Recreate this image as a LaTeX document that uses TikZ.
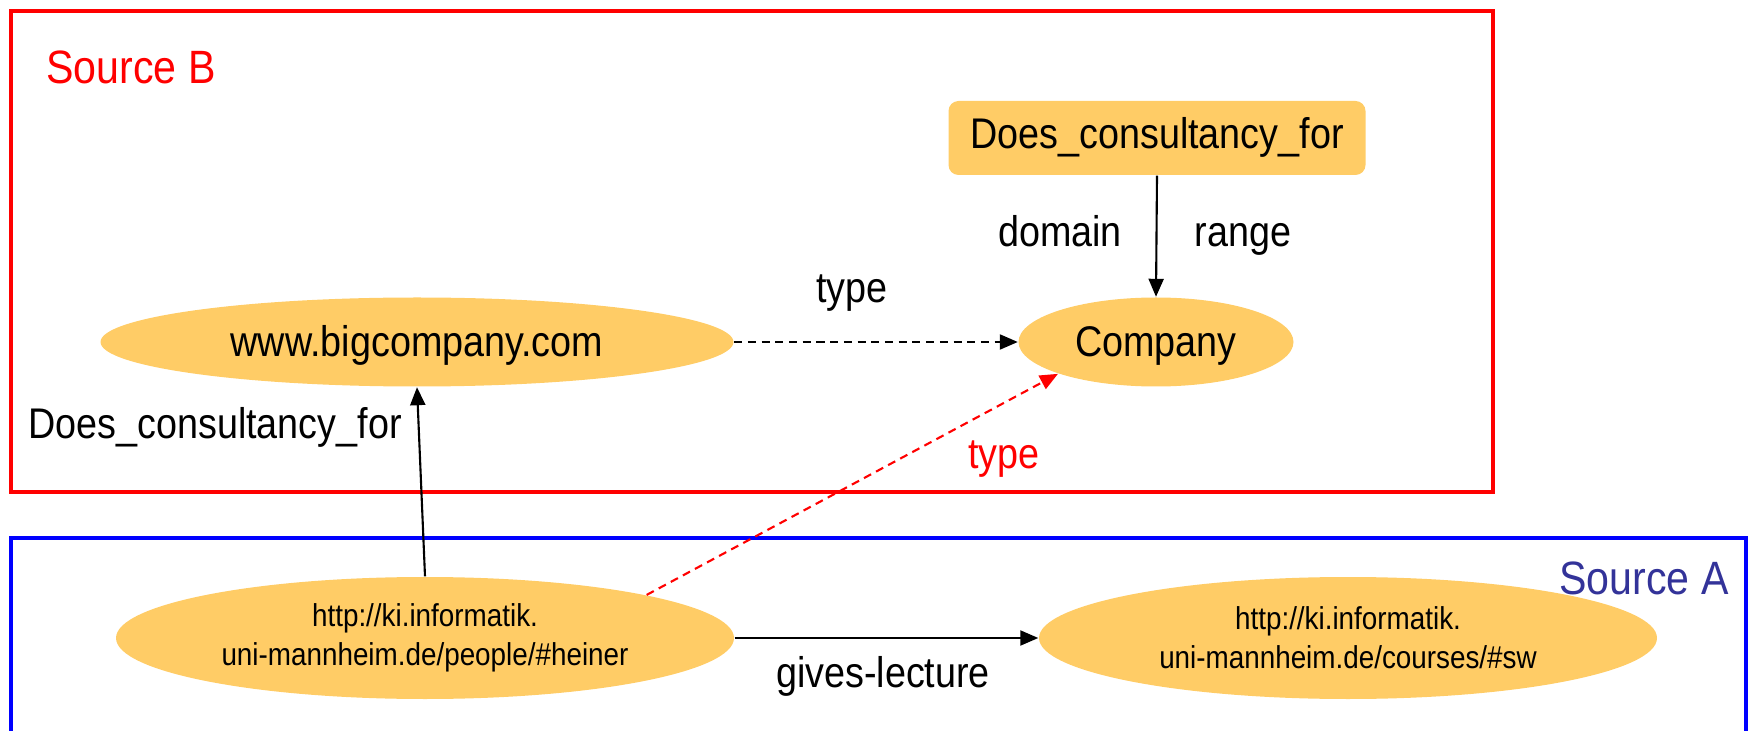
\documentclass[tikz,border=0pt]{standalone}
\usepackage{fontspec}
\setmainfont{Liberation Sans}[FakeStretch=0.88]
\usetikzlibrary{shapes.geometric,arrows.meta}
\definecolor{resOrange}{RGB}{255,204,102}
\definecolor{srcBlue}{RGB}{51,51,153}

\begin{document}
\begin{tikzpicture}[
    res/.style={ellipse, fill=resOrange, inner sep=0pt, align=center},
    prop/.style={rectangle, rounded corners=0.1cm, fill=resOrange, minimum width=4.17cm, minimum height=0.74cm},
    big/.style={font=\fontsize{12.2}{14}\selectfont, text height=1.6ex, text depth=0.45ex},
    bigres/.style={font=\fontsize{12.2}{14}\selectfont, text height=1.76ex, text depth=0.2ex},
    small/.style={font=\fontsize{9}{11.1}\selectfont},
    edge/.style={line width=0.6pt, -{Triangle[length=1.8mm,width=1.5mm]}},
    typeedge/.style={edge, dash pattern=on 2.3pt off 1.6pt},
  ]
  \useasboundingbox (0,0) rectangle (17.55,-7.31);
  \clip (0,0) rectangle (17.55,-7.31);

  % source frames
  \draw[red, line width=1.4pt] (0.11,-0.11) rectangle (14.93,-4.92);
  \draw[blue, line width=1.4pt] (0.11,-5.38) rectangle (17.46,-8);
  \node[font=\fontsize{13.3}{15}\selectfont, red] (srcb) at (1.31,-0.67) {Source B};

  % source B
  \node[prop, big] (dcf) at (11.57,-1.38) {Does\_consultancy\_for};
  \node[res, bigres, minimum width=2.75cm, minimum height=0.89cm] (company) at (11.56,-3.42) {Company};
  \node[res, bigres, minimum width=6.33cm, minimum height=0.89cm] (www) at (4.17,-3.42) {www.bigcompany.com};

  % source A
  \node[res, small, minimum width=6.18cm, minimum height=1.22cm] (heiner) at (4.25,-6.38) {http://ki.informatik.\\uni-mannheim.de/people/\#heiner};
  \node[res, small, minimum width=6.18cm, minimum height=1.22cm] (sw) at (13.48,-6.38) {http://ki.informatik.\\uni-mannheim.de/courses/\#sw};
  \node[font=\fontsize{13.3}{15}\selectfont, srcBlue] (srca) at (16.44,-5.78) {Source A};

  \draw[edge] (dcf.south) -- (company.north);
  \draw[typeedge] (www.east) -- (company.west);
  \draw[edge] (heiner.north) -- (www.south);
  \draw[edge] (heiner.east) -- (sw.west);
  \draw[typeedge, red] (heiner.11) -- (company.198);

  \node[big] (ldomain) at (10.60,-2.36) {domain};
  \node[big] (lrange) at (12.43,-2.36) {range};
  \node[big] (ltype) at (8.52,-2.92) {type};
  \node[big] (ldcf) at (2.15,-4.28) {Does\_consultancy\_for};
  \node[big, red] (lredtype) at (10.04,-4.58) {type};
  \node[big] (lgives) at (8.83,-6.77) {gives-lecture};
\end{tikzpicture}
\end{document}
